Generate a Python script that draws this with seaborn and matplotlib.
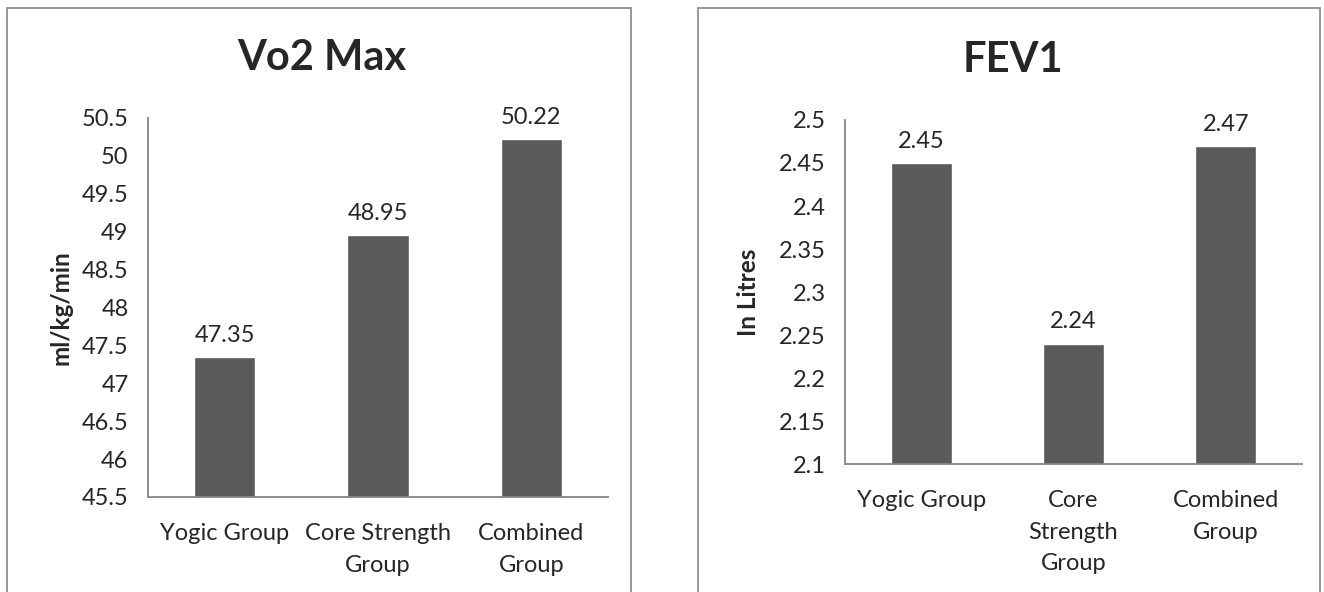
import numpy as np
import pandas as pd
import matplotlib
matplotlib.use("Agg")
import matplotlib.pyplot as plt
import seaborn as sns
from matplotlib.patches import Rectangle

# du lieu
groups = ["Yogic Group", "Core Strength Group", "Combined Group"]
vo2_max = [47.35, 48.95, 50.22]
fev1 = [2.45, 2.24, 2.47]

vo2_ticklabels = ["Yogic Group", "Core Strength\nGroup", "Combined\nGroup"]
fev1_ticklabels = ["Yogic Group", "Core\nStrength\nGroup", "Combined\nGroup"]

vo2_ticks = [45.5, 46, 46.5, 47, 47.5, 48, 48.5, 49, 49.5, 50, 50.5]
fev1_ticks = [2.1, 2.15, 2.2, 2.25, 2.3, 2.35, 2.4, 2.45, 2.5]

df = pd.DataFrame({"group": groups, "vo2": vo2_max, "fev1": fev1})

sns.set_style("white")
plt.rcParams["font.family"] = ["Lato", "DejaVu Sans"]

fig = plt.figure(figsize=(13.24, 5.92), dpi=100)

# khung vien cho moi bieu do
for x0, x1 in [(0.0053, 0.4766), (0.5272, 0.997)]:
    fig.patches.append(Rectangle((x0, -0.01), x1 - x0, 0.9965, transform=fig.transFigure,
                                 fill=False, edgecolor="#868686", linewidth=1.2))

bar_color = "#5a5a5a"
spine_color = "#868686"


def draw_panel(ax, col, ticks, ticklabels, title, ylabel, title_x, title_y, ylabel_x):
    sns.barplot(data=df, x="group", y=col, color=bar_color, saturation=1,
                width=0.4, ax=ax)
    ax.set_ylim(ticks[0], ticks[-1])
    ax.set_yticks(ticks)
    ax.set_yticklabels([f"{t:g}" for t in ticks], fontsize=17)
    ax.set_xticks(range(len(ticklabels)))
    ax.set_xticklabels(ticklabels, fontsize=17, linespacing=1.6, va="top")
    ax.tick_params(axis="both", length=0)
    ax.tick_params(axis="x", pad=19)
    ax.tick_params(axis="y", pad=14)
    ax.set_xlabel("")
    ax.set_ylabel(ylabel, fontsize=17.5, fontweight="bold")
    ax.yaxis.set_label_coords(ylabel_x, 0.5)
    sns.despine(ax=ax)
    for s in ["left", "bottom"]:
        ax.spines[s].set_color(spine_color)
        ax.spines[s].set_linewidth(1.3)
    ax.bar_label(ax.containers[0], labels=[f"{v:.2f}" for v in df[col]],
                 fontsize=17, padding=8)
    fig.text(title_x, title_y, title, fontsize=30, fontweight="bold",
             ha="center", va="center")


ax1 = fig.add_axes([0.1118, 0.1605, 0.3474, 0.6402])
draw_panel(ax1, "vo2", vo2_ticks, vo2_ticklabels, "Vo2 Max", "ml/kg/min",
           0.2432, 0.902, -0.165)

ax2 = fig.add_axes([0.6382, 0.2162, 0.3452, 0.5811])
draw_panel(ax2, "fev1", fev1_ticks, fev1_ticklabels, "FEV1", "In Litres",
           0.765, 0.899, -0.185)

plt.savefig("out.png", dpi=100)
